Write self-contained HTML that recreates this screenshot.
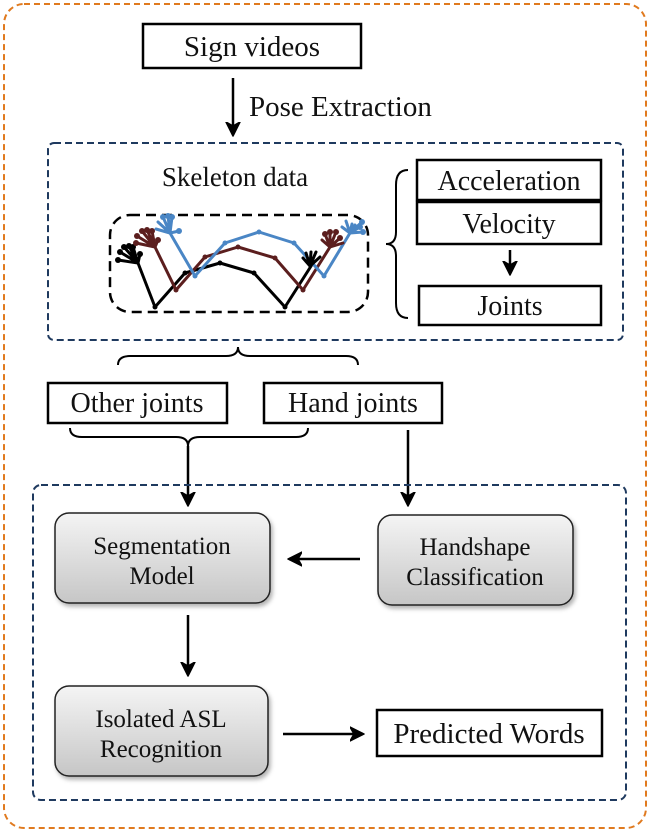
<!DOCTYPE html>
<html><head><style>body{margin:0;background:#fff}svg{display:block}text{font-family:"Liberation Serif",serif;fill:#111}</style></head><body>
<svg width="650" height="832" viewBox="0 0 650 832" xmlns="http://www.w3.org/2000/svg">
<defs>
<marker id="a" markerWidth="16" markerHeight="16" refX="13" refY="8" orient="auto" markerUnits="userSpaceOnUse"><path d="M0,1 L14,8 L0,15 L4,8 Z" fill="#000" stroke="#000" stroke-width="1.5" stroke-linejoin="round"/></marker>
<linearGradient id="g" x1="0" y1="0" x2="0" y2="1"><stop offset="0" stop-color="#f4f4f4"/><stop offset="1" stop-color="#c6c6c6"/></linearGradient>
<filter id="s"><feDropShadow dx="2" dy="3" stdDeviation="2" flood-opacity="0.3"/></filter>
</defs>
<rect x="4" y="4" width="642" height="824" rx="20" fill="none" stroke="#e07a1f" stroke-width="2" stroke-dasharray="6,4"/>
<rect x="143" y="24" width="218" height="44" fill="#fff" stroke="#000" stroke-width="2.5"/>
<text x="252" y="56" font-size="29" text-anchor="middle">Sign videos</text>
<line x1="233" y1="78" x2="233" y2="135" stroke="#000" stroke-width="2.5" marker-end="url(#a)"/>
<text x="249" y="116" font-size="29">Pose Extraction</text>
<rect x="48" y="143" width="575" height="197" rx="6" fill="none" stroke="#1f3a5f" stroke-width="2" stroke-dasharray="7,4"/>
<text x="235" y="186" font-size="27" text-anchor="middle">Skeleton data</text>
<rect x="110" y="215" width="258" height="97" rx="20" fill="none" stroke="#000" stroke-width="2.5" stroke-dasharray="10,6"/>
<g fill="none" stroke-width="3" stroke-linejoin="round" stroke-linecap="round">
<polyline stroke="#000" points="138,263 155,307 185,273 220,263 254,273 285,307 313,263"/>
<polyline stroke="#5b1e1e" points="155,247 176,290 205,257 238,247 275,258 303,290 330,247"/>
<polyline stroke="#4a86c5" points="170,233 195,276 225,243 259,232 294,243 324,276 350,233"/>
<g stroke="#000"><path d="M138,263 L118,260 M138,263 L120,252 M138,263 L124,247 M138,263 L129,246 M138,263 L133,247 M138,263 L140,254 M310,266 L303,258 M310,266 L306,253 M310,266 L311,252 M310,266 L316,252 M310,266 L320,257"/></g>
<g stroke="#5b1e1e"><path d="M155,247 L136,243 M155,247 L137,236 M155,247 L142,231 M155,247 L147,230 M155,247 L152,231 M155,247 L158,240 M330,247 L322,240 M330,247 L325,234 M330,247 L330,232 M330,247 L336,232 M330,247 L340,238 M330,247 L343,243"/></g>
<g stroke="#4a86c5"><path d="M170,233 L156,229 M170,233 L158,222 M170,233 L163,217 M170,233 L168,216 M170,233 L172,217 M170,233 L179,231 M350,233 L342,227 M350,233 L346,221 M350,233 L352,224 M350,233 L355,225 M350,233 L360,227 M350,233 L363,232 M350,233 L362,222"/></g>
</g>
<g fill="#000"><circle cx="155" cy="307" r="2.5"/><circle cx="185" cy="273" r="2.5"/><circle cx="220" cy="263" r="2.5"/><circle cx="254" cy="273" r="2.5"/><circle cx="285" cy="307" r="2.5"/><circle cx="118" cy="260" r="3"/><circle cx="120" cy="252" r="3"/><circle cx="124" cy="247" r="3"/><circle cx="129" cy="246" r="3"/><circle cx="133" cy="247" r="3"/><circle cx="140" cy="254" r="3"/></g>
<g fill="#5b1e1e"><circle cx="176" cy="290" r="2.5"/><circle cx="205" cy="257" r="2.5"/><circle cx="238" cy="247" r="2.5"/><circle cx="275" cy="258" r="2.5"/><circle cx="303" cy="290" r="2.5"/><circle cx="136" cy="243" r="3"/><circle cx="137" cy="236" r="3"/><circle cx="142" cy="231" r="3"/><circle cx="147" cy="230" r="3"/><circle cx="152" cy="231" r="3"/><circle cx="158" cy="240" r="3"/><circle cx="325" cy="234" r="3"/><circle cx="330" cy="232" r="3"/><circle cx="336" cy="232" r="3"/><circle cx="340" cy="238" r="3"/></g>
<g fill="#4a86c5"><circle cx="195" cy="276" r="2.5"/><circle cx="225" cy="243" r="2.5"/><circle cx="259" cy="232" r="2.5"/><circle cx="294" cy="243" r="2.5"/><circle cx="324" cy="276" r="2.5"/><circle cx="163" cy="217" r="3"/><circle cx="168" cy="216" r="3"/><circle cx="172" cy="217" r="3"/><circle cx="179" cy="231" r="3"/><circle cx="362" cy="222" r="3"/><circle cx="363" cy="232" r="3"/><circle cx="360" cy="227" r="3"/></g>
<path d="M408,170 Q396,170 396,185 L396,232 Q396,244 386,244 Q396,244 396,256 L396,303 Q396,318 408,318" fill="none" stroke="#000" stroke-width="2"/>
<rect x="417" y="160" width="184" height="40" fill="#fff" stroke="#000" stroke-width="2.5"/>
<text x="509" y="190" font-size="28" text-anchor="middle">Acceleration</text>
<rect x="417" y="202" width="184" height="42" fill="#fff" stroke="#000" stroke-width="2.5"/>
<text x="509" y="233" font-size="28" text-anchor="middle">Velocity</text>
<line x1="510" y1="250" x2="510" y2="274" stroke="#000" stroke-width="2.5" marker-end="url(#a)"/>
<rect x="419" y="286" width="182" height="39" fill="#fff" stroke="#000" stroke-width="2.5"/>
<text x="510" y="315" font-size="28" text-anchor="middle">Joints</text>
<path d="M118,365 Q118,356 130,356 L226,356 Q238,356 238,347 Q238,356 250,356 L346,356 Q358,356 358,365" fill="none" stroke="#000" stroke-width="2"/>
<rect x="48" y="383" width="179" height="40" fill="#fff" stroke="#000" stroke-width="2.5"/>
<text x="137" y="412" font-size="28" text-anchor="middle">Other joints</text>
<rect x="264" y="383" width="178" height="40" fill="#fff" stroke="#000" stroke-width="2.5"/>
<text x="353" y="412" font-size="28" text-anchor="middle">Hand joints</text>
<path d="M70,428 Q70,437 82,437 L176,437 Q188,437 188,446 Q188,437 200,437 L296,437 Q308,437 308,428" fill="none" stroke="#000" stroke-width="2"/>
<line x1="188" y1="446" x2="188" y2="505" stroke="#000" stroke-width="2.5" marker-end="url(#a)"/>
<line x1="408" y1="430" x2="408" y2="505" stroke="#000" stroke-width="2.5" marker-end="url(#a)"/>
<rect x="33" y="485" width="593" height="315" rx="8" fill="none" stroke="#1f3a5f" stroke-width="2" stroke-dasharray="7,4"/>
<rect x="55" y="513" width="215" height="90" rx="14" fill="url(#g)" stroke="#222" stroke-width="1.5" filter="url(#s)"/>
<text x="162" y="554" font-size="25" text-anchor="middle">Segmentation</text>
<text x="162" y="584" font-size="25" text-anchor="middle">Model</text>
<rect x="378" y="515" width="195" height="90" rx="14" fill="url(#g)" stroke="#222" stroke-width="1.5" filter="url(#s)"/>
<text x="475" y="555" font-size="25" text-anchor="middle">Handshape</text>
<text x="475" y="585" font-size="25" text-anchor="middle">Classification</text>
<line x1="360" y1="559" x2="289" y2="559" stroke="#000" stroke-width="2.5" marker-end="url(#a)"/>
<line x1="188" y1="615" x2="188" y2="675" stroke="#000" stroke-width="2.5" marker-end="url(#a)"/>
<rect x="55" y="686" width="213" height="90" rx="14" fill="url(#g)" stroke="#222" stroke-width="1.5" filter="url(#s)"/>
<text x="161" y="727" font-size="25" text-anchor="middle">Isolated ASL</text>
<text x="161" y="757" font-size="25" text-anchor="middle">Recognition</text>
<line x1="283" y1="734" x2="363" y2="734" stroke="#000" stroke-width="2.5" marker-end="url(#a)"/>
<rect x="377" y="710" width="225" height="46" fill="#fff" stroke="#000" stroke-width="2.5"/>
<text x="489" y="743" font-size="29" text-anchor="middle">Predicted Words</text>
</svg>
</body></html>
